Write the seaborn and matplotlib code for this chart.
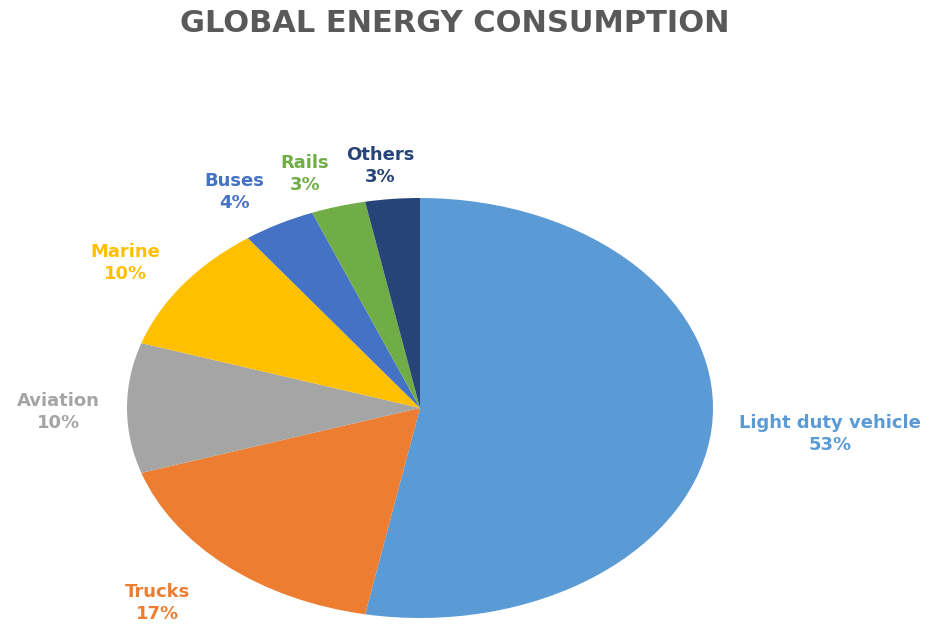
import matplotlib
matplotlib.use("Agg")
import matplotlib.pyplot as plt
import seaborn as sns

# ---- data ----
categories = ["Light duty vehicle", "Trucks", "Aviation", "Marine", "Buses", "Rails", "Others"]
shares = [53, 17, 10, 10, 4, 3, 3]
colors = ["#5B9BD5", "#ED7D31", "#A5A5A5", "#FFC000", "#4472C4", "#70AD47", "#264478"]
title = "GLOBAL ENERGY CONSUMPTION"

# ---- layout (figure pixel positions of label centres, from top-left) ----
label_px = [(830, 434), (157, 603), (58, 412), (125, 263), (234, 192), (305, 174), (380, 166)]

W, H = 930, 624
sns.set_theme(style="white")
plt.rcParams["font.family"] = ["DejaVu Sans"]

fig = plt.figure(figsize=(W / 100, H / 100), dpi=100)
ax = fig.add_axes([0, 0, 1, 1])

# pie is stretched horizontally in the reference (ellipse)
cx, cy, rx, ry = 420, 408, 293, 210
wedges, _ = ax.pie(shares, colors=colors, startangle=90, counterclock=False,
                   radius=1, center=(0, 0), wedgeprops=dict(linewidth=0))
ax.set_aspect("auto")
ax.set_xlim(-cx / rx, (W - cx) / rx)
ax.set_ylim(-(H - cy) / ry, cy / ry)
ax.axis("off")

for cat, val, col, (px, py) in zip(categories, shares, colors, label_px):
    fig.text(px / W, 1 - py / H, f"{cat}\n{val}%", color=col, fontsize=13,
             fontweight="bold", ha="center", va="center", linespacing=1.35)

fig.text(455 / W, 1 - 23 / H, title, color="#595959", fontsize=22,
         fontweight="bold", ha="center", va="center")

fig.savefig("out.png", dpi=100, facecolor="white")
